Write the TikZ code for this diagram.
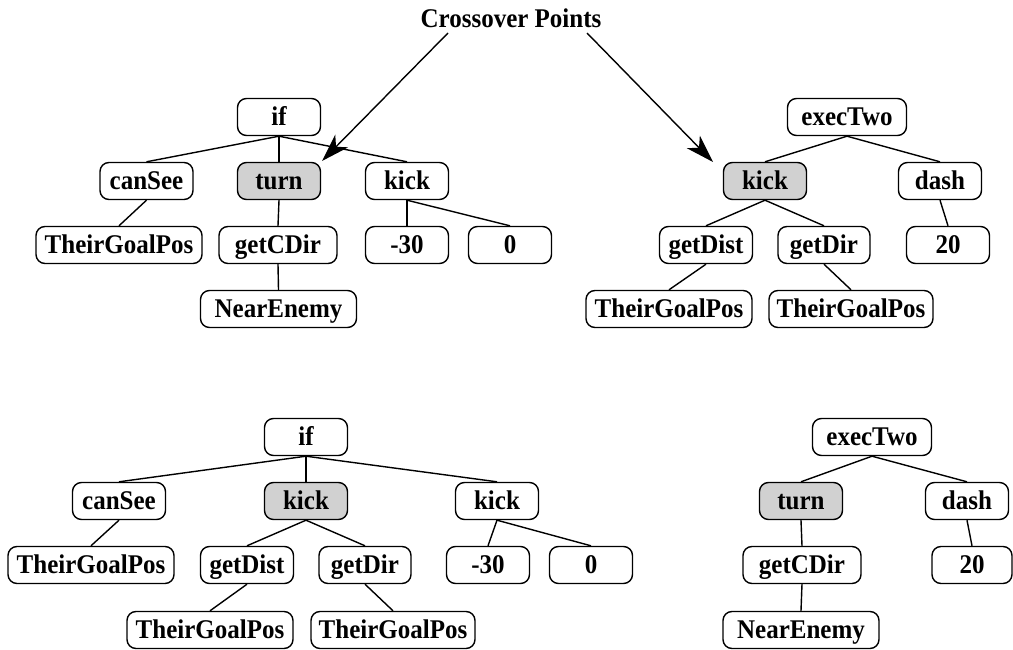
\documentclass[tikz,border=0pt]{standalone}
\usepackage{fontspec}
\usepackage{graphicx}
\setmainfont{Liberation Serif}
\usetikzlibrary{arrows.meta,calc}
\definecolor{hl}{gray}{0.82}
\newcommand{\stretchtxt}[1]{\scalebox{1}[1.08]{#1}}
\tikzset{
  tbox/.style={draw, line width=1.4pt, rounded corners=9pt, minimum width=83pt,
    minimum height=37pt, inner sep=0pt, fill=white, text height=22pt, text depth=5pt,
    font=\bfseries\fontsize{25}{30}\selectfont},
  hbox/.style={tbox, fill=hl},
  edge/.style={line width=1.4pt},
  cross/.style={line width=1.4pt, -{Stealth[length=28pt,width=18pt,inset=8pt]}}
}
\begin{document}
\begin{tikzpicture}[x=1pt,y=-1pt]
\useasboundingbox (0,0) rectangle (1013,650);
% title
\node[inner sep=0pt, font=\bfseries\fontsize{25}{30}\selectfont] (title) at (511,18) {\stretchtxt{Crossover Points}};
\coordinate (a1s) at (448,33);
\coordinate (a1e) at (322,161);
\coordinate (a2s) at (587,33);
\coordinate (a2e) at (713,162);
% tree A (top left)
\node[tbox] (Aif) at (279,117) {\stretchtxt{if}};
\node[tbox, minimum width=93pt] (Acs) at (146.5,181) {\stretchtxt{canSee}};
\node[hbox] (Aturn) at (279,181) {\stretchtxt{turn}};
\node[tbox] (Akick) at (407,181) {\stretchtxt{kick}};
\node[tbox, minimum width=166pt] (Atgp) at (119,245) {\stretchtxt{TheirGoalPos}};
\node[tbox, minimum width=118pt] (Agcd) at (278,245) {\stretchtxt{getCDir}};
\node[tbox] (Am30) at (407,245) {\stretchtxt{-30}};
\node[tbox] (Azero) at (510,245) {\stretchtxt{0}};
\node[tbox, minimum width=156pt] (Ane) at (278.5,309) {\stretchtxt{NearEnemy}};
% tree B (top right)
\node[tbox, minimum width=119pt] (Bex) at (847,117) {\stretchtxt{execTwo}};
\node[hbox] (Bkick) at (765,181) {\stretchtxt{kick}};
\node[tbox] (Bdash) at (940,181) {\stretchtxt{dash}};
\node[tbox, minimum width=93pt] (Bgd) at (706,245) {\stretchtxt{getDist}};
\node[tbox, minimum width=92pt] (Bgdir) at (824,245) {\stretchtxt{getDir}};
\node[tbox] (Btw) at (948,245) {\stretchtxt{20}};
\node[tbox, minimum width=166pt] (Btgpa) at (669,309) {\stretchtxt{TheirGoalPos}};
\node[tbox, minimum width=164pt] (Btgpb) at (851,309) {\stretchtxt{TheirGoalPos}};
% tree C (bottom left)
\node[tbox] (Cif) at (306,437) {\stretchtxt{if}};
\node[tbox, minimum width=93pt] (Ccs) at (119,501) {\stretchtxt{canSee}};
\node[hbox] (Ckick) at (306,501) {\stretchtxt{kick}};
\node[tbox] (Ckickb) at (497,501) {\stretchtxt{kick}};
\node[tbox, minimum width=166pt] (Ctgp) at (91,565) {\stretchtxt{TheirGoalPos}};
\node[tbox, minimum width=93pt] (Cgd) at (247,565) {\stretchtxt{getDist}};
\node[tbox, minimum width=92pt] (Cgdir) at (365,565) {\stretchtxt{getDir}};
\node[tbox] (Cm30) at (488,565) {\stretchtxt{-30}};
\node[tbox] (Czero) at (591,565) {\stretchtxt{0}};
\node[tbox, minimum width=166pt] (Ctgpa) at (210,630) {\stretchtxt{TheirGoalPos}};
\node[tbox, minimum width=164pt] (Ctgpb) at (393,630) {\stretchtxt{TheirGoalPos}};
% tree D (bottom right)
\node[tbox, minimum width=119pt] (Dex) at (872,437) {\stretchtxt{execTwo}};
\node[hbox] (Dturn) at (801,501) {\stretchtxt{turn}};
\node[tbox] (Ddash) at (967,501) {\stretchtxt{dash}};
\node[tbox, minimum width=118pt] (Dgcd) at (802,565) {\stretchtxt{getCDir}};
\node[tbox, minimum width=80pt] (Dtw) at (972,565) {\stretchtxt{20}};
\node[tbox, minimum width=156pt] (Dne) at (801,630) {\stretchtxt{NearEnemy}};
% edges
\foreach \p/\c in {Aif/Acs, Aif/Aturn, Aif/Akick, Acs/Atgp, Aturn/Agcd, Agcd/Ane, Akick/Am30, Akick/Azero,
  Bex/Bkick, Bex/Bdash, Bkick/Bgd, Bkick/Bgdir, Bgd/Btgpa, Bgdir/Btgpb, Bdash/Btw,
  Cif/Ccs, Cif/Ckick, Cif/Ckickb, Ccs/Ctgp, Ckick/Cgd, Ckick/Cgdir, Cgd/Ctgpa, Cgdir/Ctgpb, Ckickb/Cm30, Ckickb/Czero,
  Dex/Dturn, Dex/Ddash, Dturn/Dgcd, Dgcd/Dne, Ddash/Dtw}
  \draw[edge] (\p.south) -- (\c.north);
% crossover arrows
\draw[cross] (a1s) -- (a1e);
\draw[cross] (a2s) -- (a2e);
\end{tikzpicture}
\end{document}
